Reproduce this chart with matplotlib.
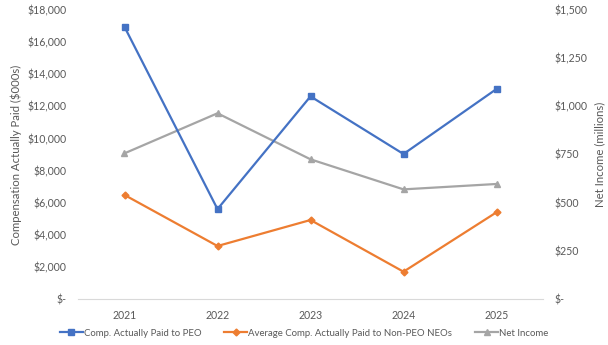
import numpy as np
import matplotlib
matplotlib.use('Agg')
import matplotlib.pyplot as plt
from matplotlib.ticker import FuncFormatter

plt.rcParams['font.family'] = ['Lato', 'DejaVu Sans']

years = ['2021', '2022', '2023', '2024', '2025']
capPeo = [16950, 5600, 12620, 9030, 13080]        # $000s
capNonPeo = [6480, 3300, 4920, 1700, 5400]        # $000s
netIncome = [756, 964, 725, 569, 597]             # $ millions

textColor = '#595959'

def money(v, pos):
    if v == 0:
        return '$-'
    return '${:,.0f}'.format(v)

fig = plt.figure(figsize=(6.08, 3.45), dpi=100)
ax = fig.add_axes([78/608, 1 - 299/345, 465/608, 289/345])
ax2 = ax.twinx()

x = np.arange(len(years))
l1, = ax.plot(x, capPeo, color='#4472C4', lw=1.6, marker='s', ms=5,
              label='Comp. Actually Paid to PEO')
l2, = ax.plot(x, capNonPeo, color='#ED7D31', lw=1.6, marker='D', ms=3.5,
              label='Average Comp. Actually Paid to Non-PEO NEOs')
l3, = ax2.plot(x, netIncome, color='#A5A5A5', lw=1.6, marker='^', ms=5,
               label='Net Income')
ax.set_zorder(ax2.get_zorder() + 1)
ax.patch.set_visible(False)

ax.set_xlim(-0.5, 4.5)
ax.set_ylim(0, 18000)
ax2.set_ylim(0, 1500)
ax.set_yticks(np.arange(0, 18001, 2000))
ax2.set_yticks(np.arange(0, 1501, 250))
ax.yaxis.set_major_formatter(FuncFormatter(money))
ax2.yaxis.set_major_formatter(FuncFormatter(money))
ax.set_xticks(x)
ax.set_xticklabels(years)

for a in (ax, ax2):
    for s in a.spines.values():
        s.set_visible(False)
    a.tick_params(length=0, labelsize=7.6, colors=textColor)
ax.spines['bottom'].set_visible(True)
ax.spines['bottom'].set_color('#D9D9D9')
ax.tick_params(axis='y', pad=8.5)
ax2.tick_params(axis='y', pad=8.5)
ax.tick_params(axis='x', pad=8)

ax.set_ylabel('Compensation Actually Paid ($000s)', fontsize=8.2, color=textColor, labelpad=4)
ax2.set_ylabel('Net Income (millions)', fontsize=8.2, color=textColor, labelpad=5)

fig.legend(handles=[l1, l2, l3], loc='center', bbox_to_anchor=(0.5, 1 - 333/345),
           ncol=3, frameon=False, fontsize=6.9, labelcolor=textColor,
           handlelength=2.4, columnspacing=2.4, handletextpad=0.1)

fig.savefig('out.png', dpi=100)
